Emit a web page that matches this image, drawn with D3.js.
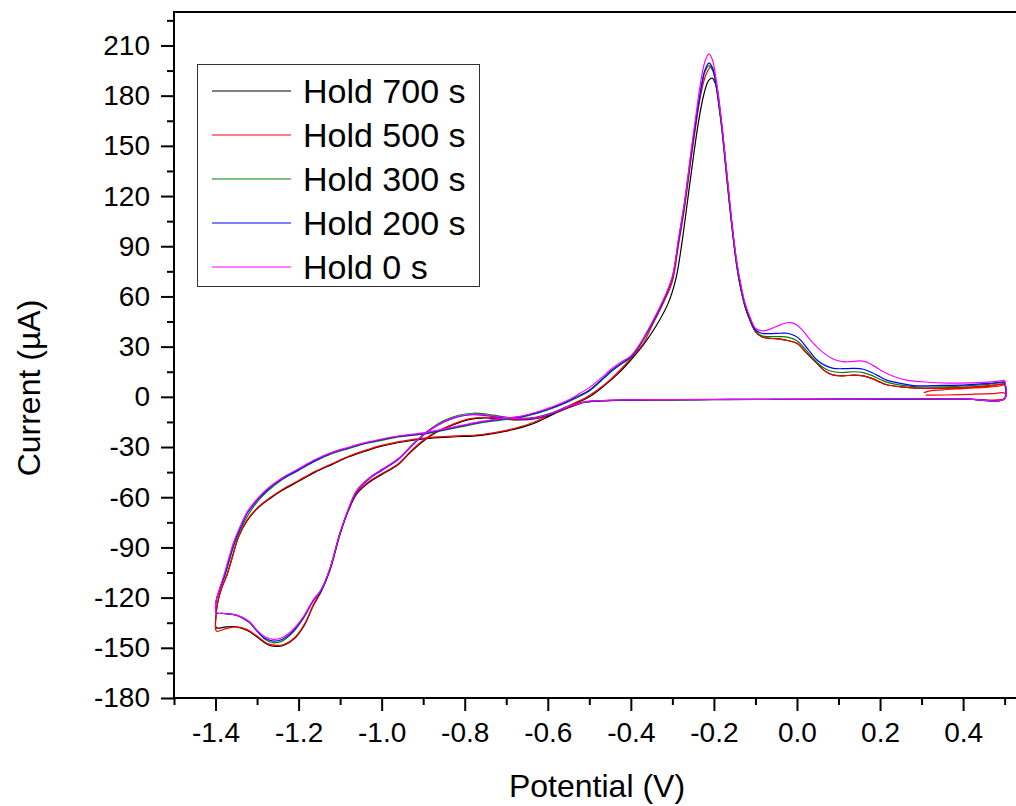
<!DOCTYPE html>
<html>
<head>
<meta charset="utf-8">
<script src="https://cdn.jsdelivr.net/npm/d3@7"></script>
<style>
  body { margin: 0; background: #fff; }
  text { font-family: "Liberation Sans", Arial, sans-serif; }
</style>
</head>
<body>
<div id="chart"></div>
<script>
// tick values / labels
const xTicks = [-1.4, -1.2, -1.0, -0.8, -0.6, -0.4, -0.2, 0.0, 0.2, 0.4];
const xTickLabels = ["-1.4", "-1.2", "-1.0", "-0.8", "-0.6", "-0.4", "-0.2", "0.0", "0.2", "0.4"];
const xMinor = [-1.5, -1.3, -1.1, -0.9, -0.7, -0.5, -0.3, -0.1, 0.1, 0.3, 0.5];
const yTicks = [-180, -150, -120, -90, -60, -30, 0, 30, 60, 90, 120, 150, 180, 210];
const yTickLabels = ["-180", "-150", "-120", "-90", "-60", "-30", "0", "30", "60", "90", "120", "150", "180", "210"];
const yMinor = [-165, -135, -105, -75, -45, -15, 15, 45, 75, 105, 135, 165, 195, 225];

const legendLabels = ["Hold 700 s", "Hold 500 s", "Hold 300 s", "Hold 200 s", "Hold 0 s"];
const colors = ["#000000", "#ff0000", "#008000", "#0000ff", "#ff00ff"];

// [potential V, current uA] in scan order
const hold700 = [
  [0.5, 7.8], [0.5, -1.0], [0.4, -1.3], [0.3, -1.5], [0.2, -1.5], [0.1, -1.5], [0, -1.6], [-0.1, -1.6],
  [-0.2, -1.7], [-0.3, -1.8], [-0.4, -2.0], [-0.47, -2.4], [-0.51, -3.2], [-0.55, -6.5], [-0.59, -10.5],
  [-0.63, -13], [-0.67, -13.8], [-0.71, -13.2], [-0.75, -12.6], [-0.79, -13.6], [-0.83, -17], [-0.87, -21.5],
  [-0.9, -26.5], [-0.93, -33], [-0.96, -40.5], [-1.0, -46.5], [-1.03, -51], [-1.06, -58], [-1.08, -68],
  [-1.1, -82], [-1.125, -104], [-1.145, -116], [-1.165, -125], [-1.185, -136], [-1.21, -144.5],
  [-1.235, -148.5], [-1.255, -149.2], [-1.275, -148], [-1.3, -143.5], [-1.325, -139.5], [-1.35, -137.5],
  [-1.375, -137.5], [-1.398, -138],
  [-1.399, -131], [-1.394, -122], [-1.385, -114], [-1.372, -106], [-1.36, -96], [-1.345, -84], [-1.325, -74.5],
  [-1.3, -67], [-1.27, -61], [-1.24, -56], [-1.2, -50.5], [-1.16, -45], [-1.12, -40.5], [-1.08, -36],
  [-1.04, -32.5], [-1.0, -29.5], [-0.95, -27], [-0.893, -25], [-0.83, -24], [-0.76, -23], [-0.7, -20.5],
  [-0.64, -16.5], [-0.6, -12], [-0.55, -6], [-0.5, 0], [-0.46, 7.5], [-0.43, 14], [-0.4, 22], [-0.37, 31],
  [-0.34, 42], [-0.31, 56], [-0.292, 70], [-0.277, 92], [-0.262, 120], [-0.248, 146], [-0.236, 166],
  [-0.224, 181], [-0.213, 189], [-0.204, 190.5], [-0.195, 186], [-0.187, 173], [-0.178, 153], [-0.168, 128],
  [-0.156, 100], [-0.145, 78], [-0.135, 64], [-0.125, 54], [-0.112, 45], [-0.1, 39], [-0.085, 36],
  [-0.065, 35], [-0.04, 34.5], [-0.02, 33.5], [0.0, 32], [0.02, 27], [0.048, 20], [0.07, 15], [0.088, 13],
  [0.11, 12.5], [0.136, 13], [0.16, 12.5], [0.18, 11], [0.2, 8.8], [0.216, 7.2], [0.25, 6], [0.288, 5.2],
  [0.35, 5.2], [0.408, 5.6], [0.46, 6.5], [0.5, 7.8]
];

const hold500 = [
  [0.31, 1.0], [0.36, 1.1], [0.42, 1.5], [0.47, 1.9], [0.5, 2.2], [0.5, -1.0], [0.4, -1.3], [0.3, -1.4],
  [0.2, -1.5], [0.1, -1.5], [0, -1.5], [-0.1, -1.6], [-0.2, -1.6], [-0.3, -1.7], [-0.4, -1.9], [-0.47, -2.3],
  [-0.51, -3.0], [-0.55, -6.2], [-0.59, -10.2], [-0.63, -12.8], [-0.67, -13.5], [-0.71, -12.9], [-0.75, -12.2],
  [-0.79, -13.2], [-0.83, -16.5], [-0.87, -21], [-0.9, -26], [-0.93, -32.5], [-0.96, -40], [-1.0, -46],
  [-1.03, -50.5], [-1.06, -57.5], [-1.08, -67.5], [-1.1, -81.5], [-1.125, -103.5], [-1.145, -115.5],
  [-1.165, -124.5], [-1.185, -135.5], [-1.21, -144], [-1.235, -148], [-1.255, -148.5], [-1.275, -147.5],
  [-1.3, -143], [-1.325, -139], [-1.35, -137.5], [-1.375, -138.5], [-1.398, -140],
  [-1.399, -132], [-1.395, -123], [-1.386, -115], [-1.373, -107], [-1.36, -96.5], [-1.345, -84], [-1.325, -74],
  [-1.3, -66.5], [-1.27, -60.5], [-1.24, -55.5], [-1.2, -50], [-1.16, -44.5], [-1.12, -40], [-1.08, -35.5],
  [-1.04, -32], [-1.0, -29], [-0.95, -26.5], [-0.893, -24.5], [-0.83, -23.5], [-0.76, -22.5], [-0.7, -20],
  [-0.64, -15.8], [-0.6, -11.2], [-0.552, -5.6], [-0.504, 0.2], [-0.46, 8], [-0.43, 15], [-0.4, 23],
  [-0.37, 32], [-0.35, 42], [-0.32, 57], [-0.3, 69], [-0.285, 91], [-0.27, 114], [-0.255, 142], [-0.243, 163],
  [-0.232, 180], [-0.22, 192], [-0.208, 197], [-0.2, 194], [-0.192, 185], [-0.185, 172], [-0.178, 155],
  [-0.168, 129], [-0.156, 101], [-0.145, 79], [-0.135, 64.5], [-0.125, 54], [-0.112, 45], [-0.1, 39],
  [-0.085, 36], [-0.065, 35], [-0.04, 34.5], [-0.02, 33.5], [0.0, 32], [0.02, 27], [0.048, 20], [0.07, 15],
  [0.088, 13], [0.11, 12.5], [0.136, 13], [0.16, 12.5], [0.18, 11], [0.2, 8.8], [0.216, 7.2], [0.25, 6],
  [0.288, 5.2], [0.35, 5.2], [0.408, 5.6], [0.46, 6.5], [0.5, 7.8], [0.49, 6.6], [0.45, 5.6], [0.4, 4.9],
  [0.35, 4.2], [0.32, 3.6], [0.305, 2.4]
];

const hold300 = [
  [0.5, 8.8], [0.5, -1.0], [0.4, -1.2], [0.3, -1.3], [0.2, -1.4], [0.1, -1.4], [0, -1.5], [-0.1, -1.5],
  [-0.2, -1.6], [-0.3, -1.7], [-0.4, -1.9], [-0.47, -2.3], [-0.51, -3.0], [-0.55, -5.5], [-0.59, -9.5],
  [-0.63, -12.2], [-0.67, -12.8], [-0.71, -11.8], [-0.745, -10.4], [-0.78, -9.8], [-0.815, -11], [-0.85, -14.2],
  [-0.89, -20.5], [-0.92, -27], [-0.96, -37], [-1.0, -43.5], [-1.03, -48.5], [-1.06, -56], [-1.08, -67],
  [-1.1, -81], [-1.125, -103], [-1.145, -115], [-1.165, -122], [-1.19, -133], [-1.215, -141], [-1.24, -146],
  [-1.26, -147], [-1.28, -145], [-1.3, -140], [-1.32, -134.5], [-1.35, -130.5], [-1.38, -129.5], [-1.398, -129],
  [-1.399, -123], [-1.39, -115], [-1.377, -106.5], [-1.365, -96.5], [-1.353, -87], [-1.335, -77], [-1.32, -70],
  [-1.295, -61.5], [-1.273, -56], [-1.24, -49.5], [-1.2, -44], [-1.16, -38.5], [-1.12, -34], [-1.08, -31],
  [-1.04, -28], [-1.0, -26], [-0.96, -24], [-0.892, -22], [-0.84, -19.5], [-0.8, -17.5], [-0.76, -15.5],
  [-0.71, -13.8], [-0.664, -12.2], [-0.62, -9.5], [-0.59, -7], [-0.56, -4], [-0.53, -0.5], [-0.5, 3.5],
  [-0.465, 11], [-0.445, 15.5], [-0.42, 20], [-0.4, 23.5], [-0.38, 30], [-0.35, 43], [-0.32, 58], [-0.3, 71],
  [-0.285, 93], [-0.27, 116], [-0.255, 144], [-0.243, 165], [-0.232, 182], [-0.222, 194], [-0.212, 198],
  [-0.203, 195], [-0.195, 186], [-0.187, 172], [-0.18, 159], [-0.168, 130], [-0.156, 101], [-0.145, 79],
  [-0.135, 65], [-0.125, 54], [-0.112, 45.5], [-0.1, 39.5], [-0.085, 36.5], [-0.065, 36], [-0.04, 36],
  [-0.02, 35.5], [0.0, 33.5], [0.02, 28.5], [0.048, 20.5], [0.07, 16.5], [0.088, 15], [0.11, 14.5],
  [0.136, 15], [0.16, 14.5], [0.18, 12.8], [0.2, 10.5], [0.216, 8.8], [0.25, 7], [0.288, 6], [0.35, 6],
  [0.408, 6.6], [0.46, 7.5], [0.5, 8.8]
];

const hold200 = [
  [0.5, 9.0], [0.5, -1.0], [0.4, -1.2], [0.3, -1.3], [0.2, -1.4], [0.1, -1.4], [0, -1.5], [-0.1, -1.5],
  [-0.2, -1.6], [-0.3, -1.7], [-0.4, -1.9], [-0.47, -2.3], [-0.51, -3.1], [-0.55, -5.8], [-0.59, -10],
  [-0.63, -12.6], [-0.67, -13.2], [-0.71, -12.4], [-0.745, -11.2], [-0.78, -10.6], [-0.815, -11.8],
  [-0.85, -15], [-0.89, -21], [-0.92, -27.5], [-0.96, -37.5], [-1.0, -44], [-1.03, -49], [-1.06, -56.5],
  [-1.08, -67.5], [-1.1, -81.5], [-1.125, -103.5], [-1.145, -115.5], [-1.165, -122], [-1.19, -132.5],
  [-1.215, -140.5], [-1.24, -145], [-1.26, -146], [-1.28, -144.5], [-1.3, -140], [-1.32, -134.5],
  [-1.35, -130.5], [-1.38, -129.5], [-1.398, -129],
  [-1.399, -123], [-1.39, -115], [-1.378, -106.5], [-1.366, -96], [-1.354, -86.5], [-1.337, -76.5],
  [-1.322, -69], [-1.297, -61], [-1.275, -55.5], [-1.24, -49], [-1.2, -43.5], [-1.16, -38], [-1.12, -33.5],
  [-1.08, -30.5], [-1.04, -27.7], [-1.0, -25.5], [-0.96, -23.7], [-0.892, -21.5], [-0.84, -19], [-0.8, -17],
  [-0.76, -15], [-0.71, -13.3], [-0.664, -11.8], [-0.62, -9], [-0.59, -6.5], [-0.56, -3.6], [-0.53, 0],
  [-0.5, 4], [-0.465, 11.5], [-0.445, 16], [-0.42, 20.5], [-0.4, 24], [-0.38, 30.5], [-0.35, 43.5],
  [-0.32, 58.5], [-0.3, 71.5], [-0.285, 94], [-0.27, 117], [-0.255, 145], [-0.243, 166], [-0.232, 183],
  [-0.222, 195], [-0.212, 199.5], [-0.203, 196.5], [-0.195, 187], [-0.187, 173], [-0.18, 160],
  [-0.168, 131], [-0.156, 102], [-0.145, 80], [-0.135, 66], [-0.125, 55], [-0.112, 46], [-0.1, 40],
  [-0.085, 38], [-0.065, 37.8], [-0.04, 38], [-0.024, 38], [-0.005, 36.5], [0.008, 34], [0.025, 29],
  [0.048, 22], [0.07, 18.5], [0.088, 17], [0.11, 16.8], [0.136, 17], [0.16, 16.5], [0.18, 14.5], [0.2, 12],
  [0.216, 10], [0.25, 8], [0.288, 6.6], [0.35, 6.8], [0.408, 7.2], [0.46, 8], [0.5, 9.0]
];

const hold0 = [
  [0.5, 9.8], [0.5, -1.0], [0.4, -1.2], [0.3, -1.3], [0.2, -1.3], [0.1, -1.4], [0, -1.4], [-0.1, -1.5],
  [-0.2, -1.5], [-0.3, -1.6], [-0.4, -1.8], [-0.47, -2.2], [-0.51, -3.0], [-0.55, -5.7], [-0.59, -9.8],
  [-0.63, -12.4], [-0.67, -13], [-0.71, -12.2], [-0.745, -11], [-0.78, -10.4], [-0.815, -11.6], [-0.85, -14.8],
  [-0.89, -20.8], [-0.92, -27.2], [-0.96, -37], [-1.0, -43.5], [-1.03, -48.5], [-1.06, -56], [-1.08, -67],
  [-1.1, -81], [-1.125, -103], [-1.145, -115], [-1.165, -121.5], [-1.19, -132], [-1.215, -139.5],
  [-1.24, -144], [-1.26, -145], [-1.28, -143.5], [-1.3, -139.5], [-1.32, -134], [-1.35, -130.5],
  [-1.38, -129.5], [-1.398, -129],
  [-1.399, -122.5], [-1.39, -114.5], [-1.379, -106], [-1.367, -95.5], [-1.355, -86], [-1.338, -76],
  [-1.323, -68.5], [-1.298, -60.5], [-1.276, -55], [-1.24, -48.5], [-1.2, -43], [-1.16, -37.5], [-1.12, -33.2],
  [-1.08, -30.2], [-1.04, -27.4], [-1.0, -25.2], [-0.96, -23.4], [-0.892, -21.2], [-0.84, -18.7], [-0.8, -16.7],
  [-0.76, -14.7], [-0.71, -13], [-0.664, -11.5], [-0.62, -8.6], [-0.59, -6], [-0.56, -3], [-0.53, 1],
  [-0.5, 5.5], [-0.47, 11.5], [-0.45, 16], [-0.425, 20.5], [-0.4, 24.5], [-0.38, 31], [-0.35, 44],
  [-0.32, 59], [-0.3, 72], [-0.285, 95], [-0.27, 118], [-0.255, 147], [-0.243, 169], [-0.232, 188],
  [-0.222, 200], [-0.212, 205], [-0.203, 201], [-0.195, 190], [-0.187, 175], [-0.18, 161], [-0.168, 132],
  [-0.156, 103], [-0.145, 81], [-0.135, 67], [-0.125, 56], [-0.112, 47], [-0.1, 41], [-0.085, 39.5],
  [-0.07, 40], [-0.05, 42], [-0.03, 44], [-0.016, 44.4], [0.0, 43], [0.016, 39], [0.032, 34], [0.06, 27],
  [0.088, 22.5], [0.11, 21], [0.128, 21], [0.15, 21.5], [0.165, 21], [0.185, 18.5], [0.208, 15],
  [0.235, 12], [0.264, 10], [0.3, 9], [0.368, 8.2], [0.45, 8.6], [0.5, 9.8]
];

const seriesData = [hold700, hold500, hold300, hold200, hold0];

const W = 1016, H = 806;
const svg = d3.select("#chart")
    .append("svg")
    .attr("width", W)
    .attr("height", H);

const x = d3.scaleLinear().domain([-1.5, 0.55]).range([174, 1025.4]);
const y = d3.scaleLinear().domain([-180, 230]).range([698, 12]);

// curves
const line = d3.line()
    .x(d => x(d[0]))
    .y(d => y(d[1]))
    .curve(d3.curveCatmullRom.alpha(0.5));

svg.append("g")
    .selectAll("path")
    .data(seriesData)
    .join("path")
    .attr("fill", "none")
    .attr("stroke", (d, i) => colors[i])
    .attr("stroke-width", 1.2)
    .attr("d", line);

// axes
svg.append("g")
    .attr("transform", `translate(0, ${y(-180)})`)
    .call(d3.axisBottom(x).tickValues(xTicks).tickSize(13).tickSizeOuter(0).tickPadding(11)
        .tickFormat((d, i) => xTickLabels[i]));
svg.append("g")
    .attr("transform", `translate(0, ${y(-180)})`)
    .call(d3.axisBottom(x).tickValues(xMinor).tickSize(7).tickSizeOuter(0).tickFormat(""));

svg.append("g")
    .attr("transform", `translate(${x(-1.5)}, 0)`)
    .call(d3.axisLeft(y).tickValues(yTicks).tickSize(13).tickSizeOuter(0).tickPadding(11)
        .tickFormat((d, i) => yTickLabels[i]));
svg.append("g")
    .attr("transform", `translate(${x(-1.5)}, 0)`)
    .call(d3.axisLeft(y).tickValues(yMinor).tickSize(7).tickSizeOuter(0).tickFormat(""));

svg.selectAll(".domain").remove();
svg.selectAll(".tick line").attr("stroke", "#000").attr("stroke-width", 2);
svg.selectAll(".tick text")
    .attr("fill", "#000")
    .style("font-size", "28px")
    .style("font-family", "'Liberation Sans', Arial, sans-serif");

// frame
svg.append("rect")
    .attr("x", x(-1.5))
    .attr("y", y(230))
    .attr("width", x(0.55) - x(-1.5))
    .attr("height", y(-180) - y(230))
    .attr("fill", "none")
    .attr("stroke", "#000")
    .attr("stroke-width", 2);

// axis titles
svg.append("text")
    .attr("x", 597)
    .attr("y", 797)
    .attr("text-anchor", "middle")
    .style("font-size", "32px")
    .text("Potential (V)");

svg.append("text")
    .attr("transform", "translate(40, 388) rotate(-90)")
    .attr("text-anchor", "middle")
    .style("font-size", "32px")
    .text("Current (\u00b5A)");

// legend
const legend = svg.append("g");
legend.append("rect")
    .attr("x", 197.5)
    .attr("y", 64.5)
    .attr("width", 282)
    .attr("height", 222)
    .attr("fill", "#fff")
    .attr("stroke", "#333")
    .attr("stroke-width", 1);

const rows = legend.selectAll("g.row")
    .data(legendLabels)
    .join("g")
    .attr("class", "row")
    .attr("transform", (d, i) => `translate(0, ${91 + i * 44})`);

rows.append("line")
    .attr("x1", 212)
    .attr("x2", 291)
    .attr("stroke", (d, i) => colors[i])
    .attr("stroke-width", 1.2);

rows.append("text")
    .attr("x", 303)
    .attr("y", 12)
    .style("font-size", "34px")
    .text(d => d);
</script>
</body>
</html>
